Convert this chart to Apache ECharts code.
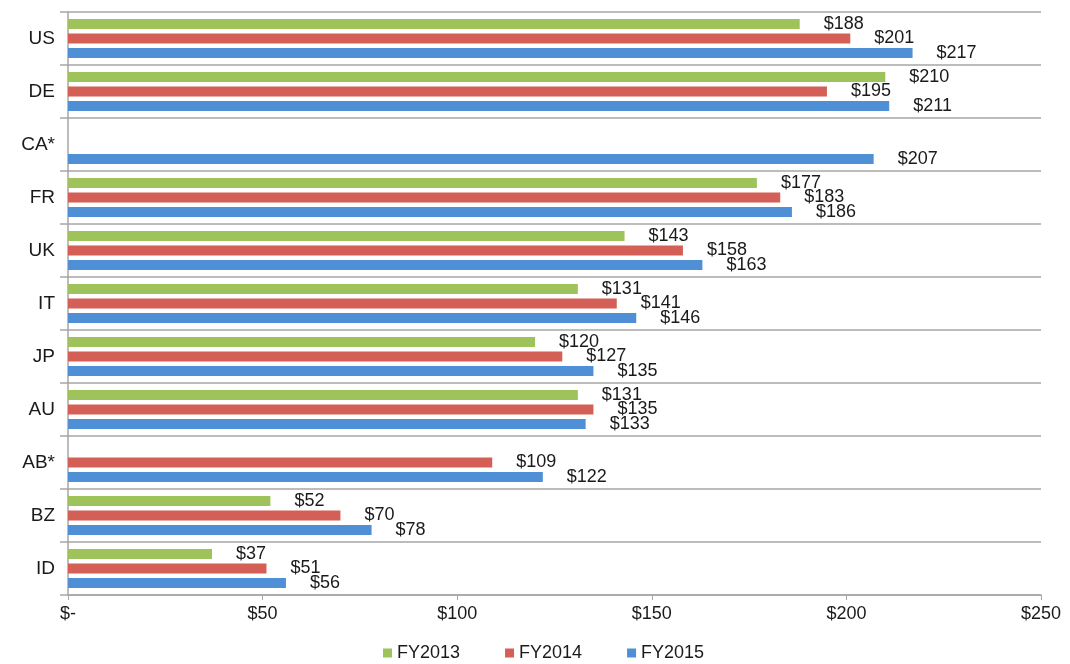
<!DOCTYPE html>
<html>
<head>
<meta charset="utf-8">
<script src="https://cdn.jsdelivr.net/npm/echarts@6/dist/echarts.min.js"></script>
<style>
  html, body { margin: 0; padding: 0; background: #fff; }
  #chart { width: 1070px; height: 664px; }
</style>
</head>
<body>
<div id="chart"></div>
<script>
  // countries, top to bottom
  const categories = ['US', 'DE', 'CA*', 'FR', 'UK', 'IT', 'JP', 'AU', 'AB*', 'BZ', 'ID'];
  const fy2013 = [188, 210, null, 177, 143, 131, 120, 131, null, 52, 37];
  const fy2014 = [201, 195, null, 183, 158, 141, 127, 135, 109, 70, 51];
  const fy2015 = [217, 211, 207, 186, 163, 146, 135, 133, 122, 78, 56];
  const xTicks = [0, 50, 100, 150, 200, 250];

  const seriesDefs = [
    { name: 'FY2013', data: fy2013, color: '#9DC35A' },
    { name: 'FY2014', data: fy2014, color: '#D35F57' },
    { name: 'FY2015', data: fy2015, color: '#4E8FD6' },
  ];

  const chart = echarts.init(document.getElementById('chart'));
  const font = 'Liberation Sans, Arial, sans-serif';

  const series = seriesDefs.map((s) => ({
    name: s.name,
    type: 'bar',
    data: s.data,
    barWidth: 10,
    barGap: '45%',
    itemStyle: { color: s.color },
    label: {
      show: true,
      position: 'right',
      distance: 24,
      formatter: (p) => '$' + p.value,
      fontFamily: font,
      fontSize: 18,
      color: '#1a1a1a',
    },
    animation: false,
  }));

  chart.setOption({
    animation: false,
    grid: { left: 68, right: 29, top: 12, bottom: 69, containLabel: false },
    legend: {
      top: 639,
      left: 378,
      itemWidth: 9,
      itemHeight: 9,
      itemGap: 45,
      icon: 'rect',
      textStyle: { fontFamily: font, fontSize: 18, color: '#1a1a1a' },
      data: seriesDefs.map((s) => s.name),
    },
    xAxis: {
      type: 'value',
      min: xTicks[0],
      max: xTicks[xTicks.length - 1],
      interval: 50,
      axisLine: { show: true, lineStyle: { color: '#a6a6a6', width: 1.5 } },
      axisTick: { show: true, length: 5, lineStyle: { color: '#a6a6a6' } },
      splitLine: { show: false },
      axisLabel: {
        margin: 10,
        fontFamily: font,
        fontSize: 18,
        color: '#1a1a1a',
        formatter: (v) => (v === 0 ? '$-' : '$' + v),
      },
    },
    yAxis: {
      type: 'category',
      data: categories,
      inverse: true,
      axisLine: { show: true, lineStyle: { color: '#a6a6a6', width: 1.5 } },
      axisTick: { show: true, length: 8, alignWithLabel: false, lineStyle: { color: '#a6a6a6', width: 1.5 } },
      splitLine: { show: true, lineStyle: { color: '#a6a6a6', width: 1.5 } },
      axisLabel: { margin: 13, fontFamily: font, fontSize: 19, color: '#1a1a1a' },
    },
    series: series,
  });
</script>
</body>
</html>
